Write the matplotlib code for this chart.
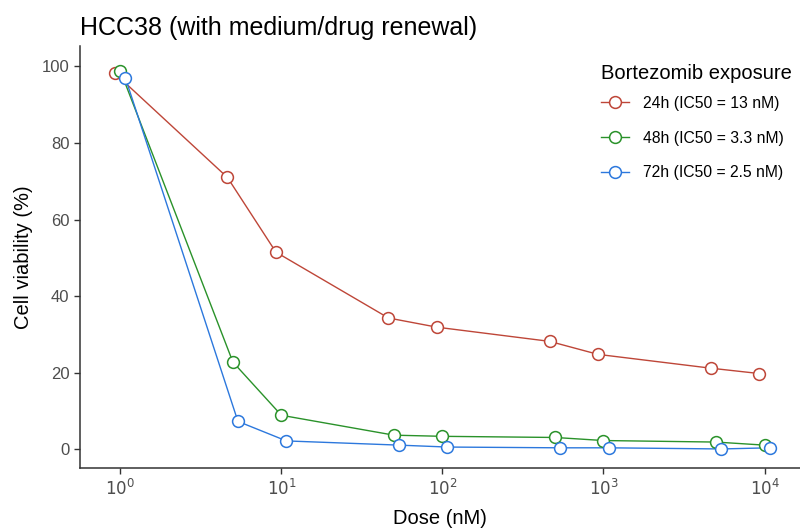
import numpy as np
import matplotlib
matplotlib.use('Agg')
import matplotlib.pyplot as plt
from matplotlib.lines import Line2D

plt.rcParams['font.family'] = ['Liberation Sans', 'DejaVu Sans']

# Bortezomib dose series (nM) and viability (%) per exposure time
doses = [1, 5, 10, 50, 100, 500, 1000, 5000, 10000]

viab_24h = [98.2, 71.0, 51.5, 34.3, 31.9, 28.2, 24.8, 21.2, 19.8]
viab_48h = [98.9, 22.8, 8.9, 3.7, 3.4, 3.1, 2.3, 1.9, 1.1]
viab_72h = [97.0, 7.3, 2.2, 1.1, 0.6, 0.4, 0.4, 0.1, 0.4]

labels = ['24h (IC50 = 13 nM)', '48h (IC50 = 3.3 nM)', '72h (IC50 = 2.5 nM)']
colors = ['#BE4638', '#2A922A', '#2C78DD']
dodge  = [0.925, 1.0, 1.075]   # small horizontal offset so markers don't overlap

fig = plt.figure(figsize=(8, 5.3), dpi=100)
ax = fig.add_axes([0.10, 0.1175, 0.90, 0.7955])

for y, c, d in zip([viab_24h, viab_48h, viab_72h], colors, dodge):
    x = np.array(doses) * d
    ax.plot(x, y, '-', color=c, lw=1.0, zorder=2)
    ax.plot(x, y, 'o', ms=8.5, mfc='white', mec=c, mew=1.1, zorder=3)

ax.set_xscale('log')
ax.set_xlim(0.562, 16600)
ax.set_ylim(-4.8, 105.3)
ax.set_xticks([1, 10, 100, 1000, 10000])
ax.set_xticklabels([r'$10^{0}$', r'$10^{1}$', r'$10^{2}$', r'$10^{3}$', r'$10^{4}$'])
ax.xaxis.set_minor_locator(matplotlib.ticker.NullLocator())
ax.set_yticks([0, 20, 40, 60, 80, 100])

for s in ['top', 'right']:
    ax.spines[s].set_visible(False)
for s in ['left', 'bottom']:
    ax.spines[s].set_color('#333333')
    ax.spines[s].set_linewidth(1.1)
ax.tick_params(colors='#333333', labelcolor='#4D4D4D', labelsize=12,
               length=4, width=1.0)

ax.set_xlabel('Dose (nM)', fontsize=14.5, labelpad=8)
ax.set_ylabel('Cell viability (%)', fontsize=14.5, labelpad=6)
fig.text(0.10, 0.948, 'HCC38 (with medium/drug renewal)', fontsize=18,
         ha='left', va='center')

handles = [Line2D([], [], color=c, lw=1.0, marker='o', ms=8.5, mfc='white',
                  mec=c, mew=1.1) for c in colors]
leg = ax.legend(handles, labels, title='Bortezomib exposure', loc='upper left',
                bbox_to_anchor=(0.733, 0.905), bbox_transform=fig.transFigure,
                frameon=False, fontsize=11.3, title_fontsize=14.5,
                handlelength=1.8, handletextpad=0.9, labelspacing=1.25)
leg._legend_box.align = 'left'
leg._legend_box.sep = 9

fig.savefig('out.png', dpi=100)
